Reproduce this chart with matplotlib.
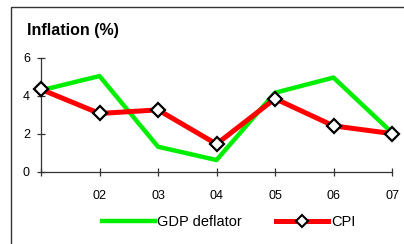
import matplotlib.pyplot as plt
from matplotlib.lines import Line2D
from matplotlib.patches import Rectangle

plt.rcParams['font.family'] = ['Liberation Sans', 'DejaVu Sans']

years = ["01", "02", "03", "04", "05", "06", "07"]
tick_labels = ["", "02", "03", "04", "05", "06", "07"]
gdp_deflator = [4.3, 5.05, 1.33, 0.63, 4.17, 4.97, 2.07]
cpi = [4.35, 3.08, 3.27, 1.47, 3.86, 2.43, 2.02]

fig = plt.figure(figsize=(4.04, 2.44), dpi=100)
ax = fig.add_axes([41 / 404, 1 - 172 / 244, 351 / 404, 114 / 244])

x = list(range(len(years)))
ax.plot(x, gdp_deflator, color="#00ee00", lw=3.2, clip_on=False, zorder=2)
ax.plot(x, cpi, color="#ff0000", lw=3.6, clip_on=False, zorder=3,
        marker="D", ms=7, mfc="white", mec="black", mew=1.6)

ax.set_xlim(0, 6)
ax.set_ylim(0, 6)
ax.set_yticks([0, 2, 4, 6])
ax.set_xticks(x)
ax.set_xticklabels(tick_labels)
for s in ["top", "right"]:
    ax.spines[s].set_visible(False)
for s in ["left", "bottom"]:
    ax.spines[s].set_color("#333333")
    ax.spines[s].set_linewidth(0.9)
ax.tick_params(axis="y", direction="inout", length=6, width=0.9, color="#333333",
               labelsize=9, pad=5)
ax.tick_params(axis="x", direction="inout", length=6, width=0.9, color="#333333",
               labelsize=9, pad=10)

fig.text(27 / 404, 1 - 31 / 244, "Inflation (%)", fontsize=11.5, fontweight="bold",
         va="center", ha="left")

# outer frame
fig.patches.append(Rectangle((10.5 / 404, -0.2), 2, 1.2 - 6.5 / 244,
                             transform=fig.transFigure, fill=False,
                             edgecolor="#333333", lw=1.0))

handles = [Line2D([], [], color="#00ee00", lw=3.2),
           Line2D([], [], color="#ff0000", lw=3.6, marker="D", ms=6,
                  mfc="white", mec="black", mew=1.5)]
fig.legend(handles, ["GDP deflator", "CPI"], loc="center left",
           bbox_to_anchor=(102 / 404, 1 - 222 / 244), ncol=2, frameon=False,
           fontsize=10.5, handlelength=3.6, handletextpad=0.2, columnspacing=2.3,
           borderpad=0, borderaxespad=0)

fig.savefig("out.png", dpi=100)
